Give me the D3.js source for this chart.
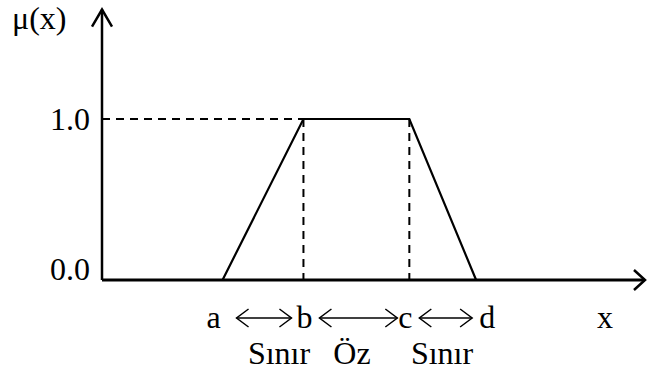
<!DOCTYPE html>
<html>
<head>
<meta charset="utf-8">
<script src="https://cdn.jsdelivr.net/npm/d3@7"></script>
<style>
  body { margin: 0; background: #fff; }
  text { font-family: "Liberation Serif", "Times New Roman", serif; fill: #000; }
</style>
</head>
<body>
<svg id="chart"></svg>
<script>
// chart size
const width = 647;
const height = 372;

// membership function corners (x positions of a, b, c, d) and their levels
const cornerNames = ["a", "b", "c", "d"];
const cornerX = [2.22, 3.71, 5.66, 6.89];
const cornerMu = [0, 1, 1, 0];

// y tick labels
const yTickValues = [0, 1];
const yTickLabels = ["0.0", "1.0"];

// region names under the arrows
const regionNames = ["Sınır", "Öz", "Sınır"];

const fontSize = 32;

const svg = d3.select("#chart")
    .attr("width", width)
    .attr("height", height);

// scales
const x = d3.scaleLinear().domain([0, 10]).range([102, 645]);
const y = d3.scaleLinear().domain([0, 1]).range([280, 119]);
const yTop = 1.68;

const line = d3.line().x(d => d[0]).y(d => d[1]);

// dashed guides for mu = 1
svg.append("path")
    .attr("d", line([[x(0), y(1)], [x(cornerX[1]), y(1)]]))
    .attr("stroke", "#000").attr("stroke-width", 2)
    .attr("stroke-dasharray", "8,6").attr("fill", "none");

[cornerX[1], cornerX[2]].forEach(v => {
    svg.append("path")
        .attr("d", line([[x(v), y(1)], [x(v), y(0)]]))
        .attr("stroke", "#000").attr("stroke-width", 2)
        .attr("stroke-dasharray", "8,6").attr("fill", "none");
});

// trapezoid
svg.append("path")
    .attr("d", line(cornerX.map((v, i) => [x(v), y(cornerMu[i])])))
    .attr("stroke", "#000").attr("stroke-width", 2.2)
    .attr("fill", "none");

// axes
svg.append("path")
    .attr("d", line([[x(0), y(0)], [x(0), y(yTop)]]))
    .attr("stroke", "#000").attr("stroke-width", 2.5).attr("fill", "none");
svg.append("path")
    .attr("d", line([[x(0), y(0)], [x(10), y(0)]]))
    .attr("stroke", "#000").attr("stroke-width", 3).attr("fill", "none");

// axis arrowheads
svg.append("path")
    .attr("d", line([[x(0) - 10, y(yTop) + 17], [x(0), y(yTop)], [x(0) + 10, y(yTop) + 17]]))
    .attr("stroke", "#000").attr("stroke-width", 2.5).attr("fill", "none");
svg.append("path")
    .attr("d", line([[x(10) - 11, y(0) - 10], [x(10), y(0)], [x(10) - 11, y(0) + 10]]))
    .attr("stroke", "#000").attr("stroke-width", 2.5).attr("fill", "none");

// y labels
svg.selectAll(".ylab")
    .data(yTickValues)
    .enter().append("text")
    .attr("class", "ylab")
    .attr("x", x(0) - 12)
    .attr("y", d => d === 0 ? y(d) : y(d) + 11)
    .attr("text-anchor", "end")
    .attr("font-size", fontSize)
    .text((d, i) => yTickLabels[i]);

svg.append("text")
    .attr("x", 12).attr("y", 29)
    .attr("font-size", fontSize)
    .text("μ(x)");

// corner labels along the x axis
const labelShift = [-9, 1, -4, 11];
const labelY = 328;
svg.selectAll(".clab")
    .data(cornerNames)
    .enter().append("text")
    .attr("class", "clab")
    .attr("x", (d, i) => x(cornerX[i]) + labelShift[i])
    .attr("y", labelY)
    .attr("text-anchor", "middle")
    .attr("font-size", fontSize)
    .text(d => d);

svg.append("text")
    .attr("x", 605).attr("y", labelY)
    .attr("text-anchor", "middle")
    .attr("font-size", fontSize)
    .text("x");

// double arrows between corners
const arrowPad = [[14, -12], [16, -12], [10, -4]];
const arrowY = 318;
for (let i = 0; i < 3; i++) {
    const x0 = x(cornerX[i]) + arrowPad[i][0];
    const x1 = x(cornerX[i + 1]) + arrowPad[i][1];
    svg.append("path")
        .attr("d", line([[x0, arrowY], [x1, arrowY]]))
        .attr("stroke", "#000").attr("stroke-width", 1.5).attr("fill", "none");
    svg.append("path")
        .attr("d", line([[x0 + 12, arrowY - 9], [x0, arrowY], [x0 + 12, arrowY + 9]]))
        .attr("stroke", "#000").attr("stroke-width", 1.5).attr("fill", "none");
    svg.append("path")
        .attr("d", line([[x1 - 12, arrowY - 9], [x1, arrowY], [x1 - 12, arrowY + 9]]))
        .attr("stroke", "#000").attr("stroke-width", 1.5).attr("fill", "none");
}

// region names
const regionCenter = [279, 352, 442];
svg.selectAll(".rlab")
    .data(regionNames)
    .enter().append("text")
    .attr("class", "rlab")
    .attr("x", (d, i) => regionCenter[i])
    .attr("y", 364)
    .attr("text-anchor", "middle")
    .attr("font-size", fontSize)
    .text(d => d);
</script>
</body>
</html>
